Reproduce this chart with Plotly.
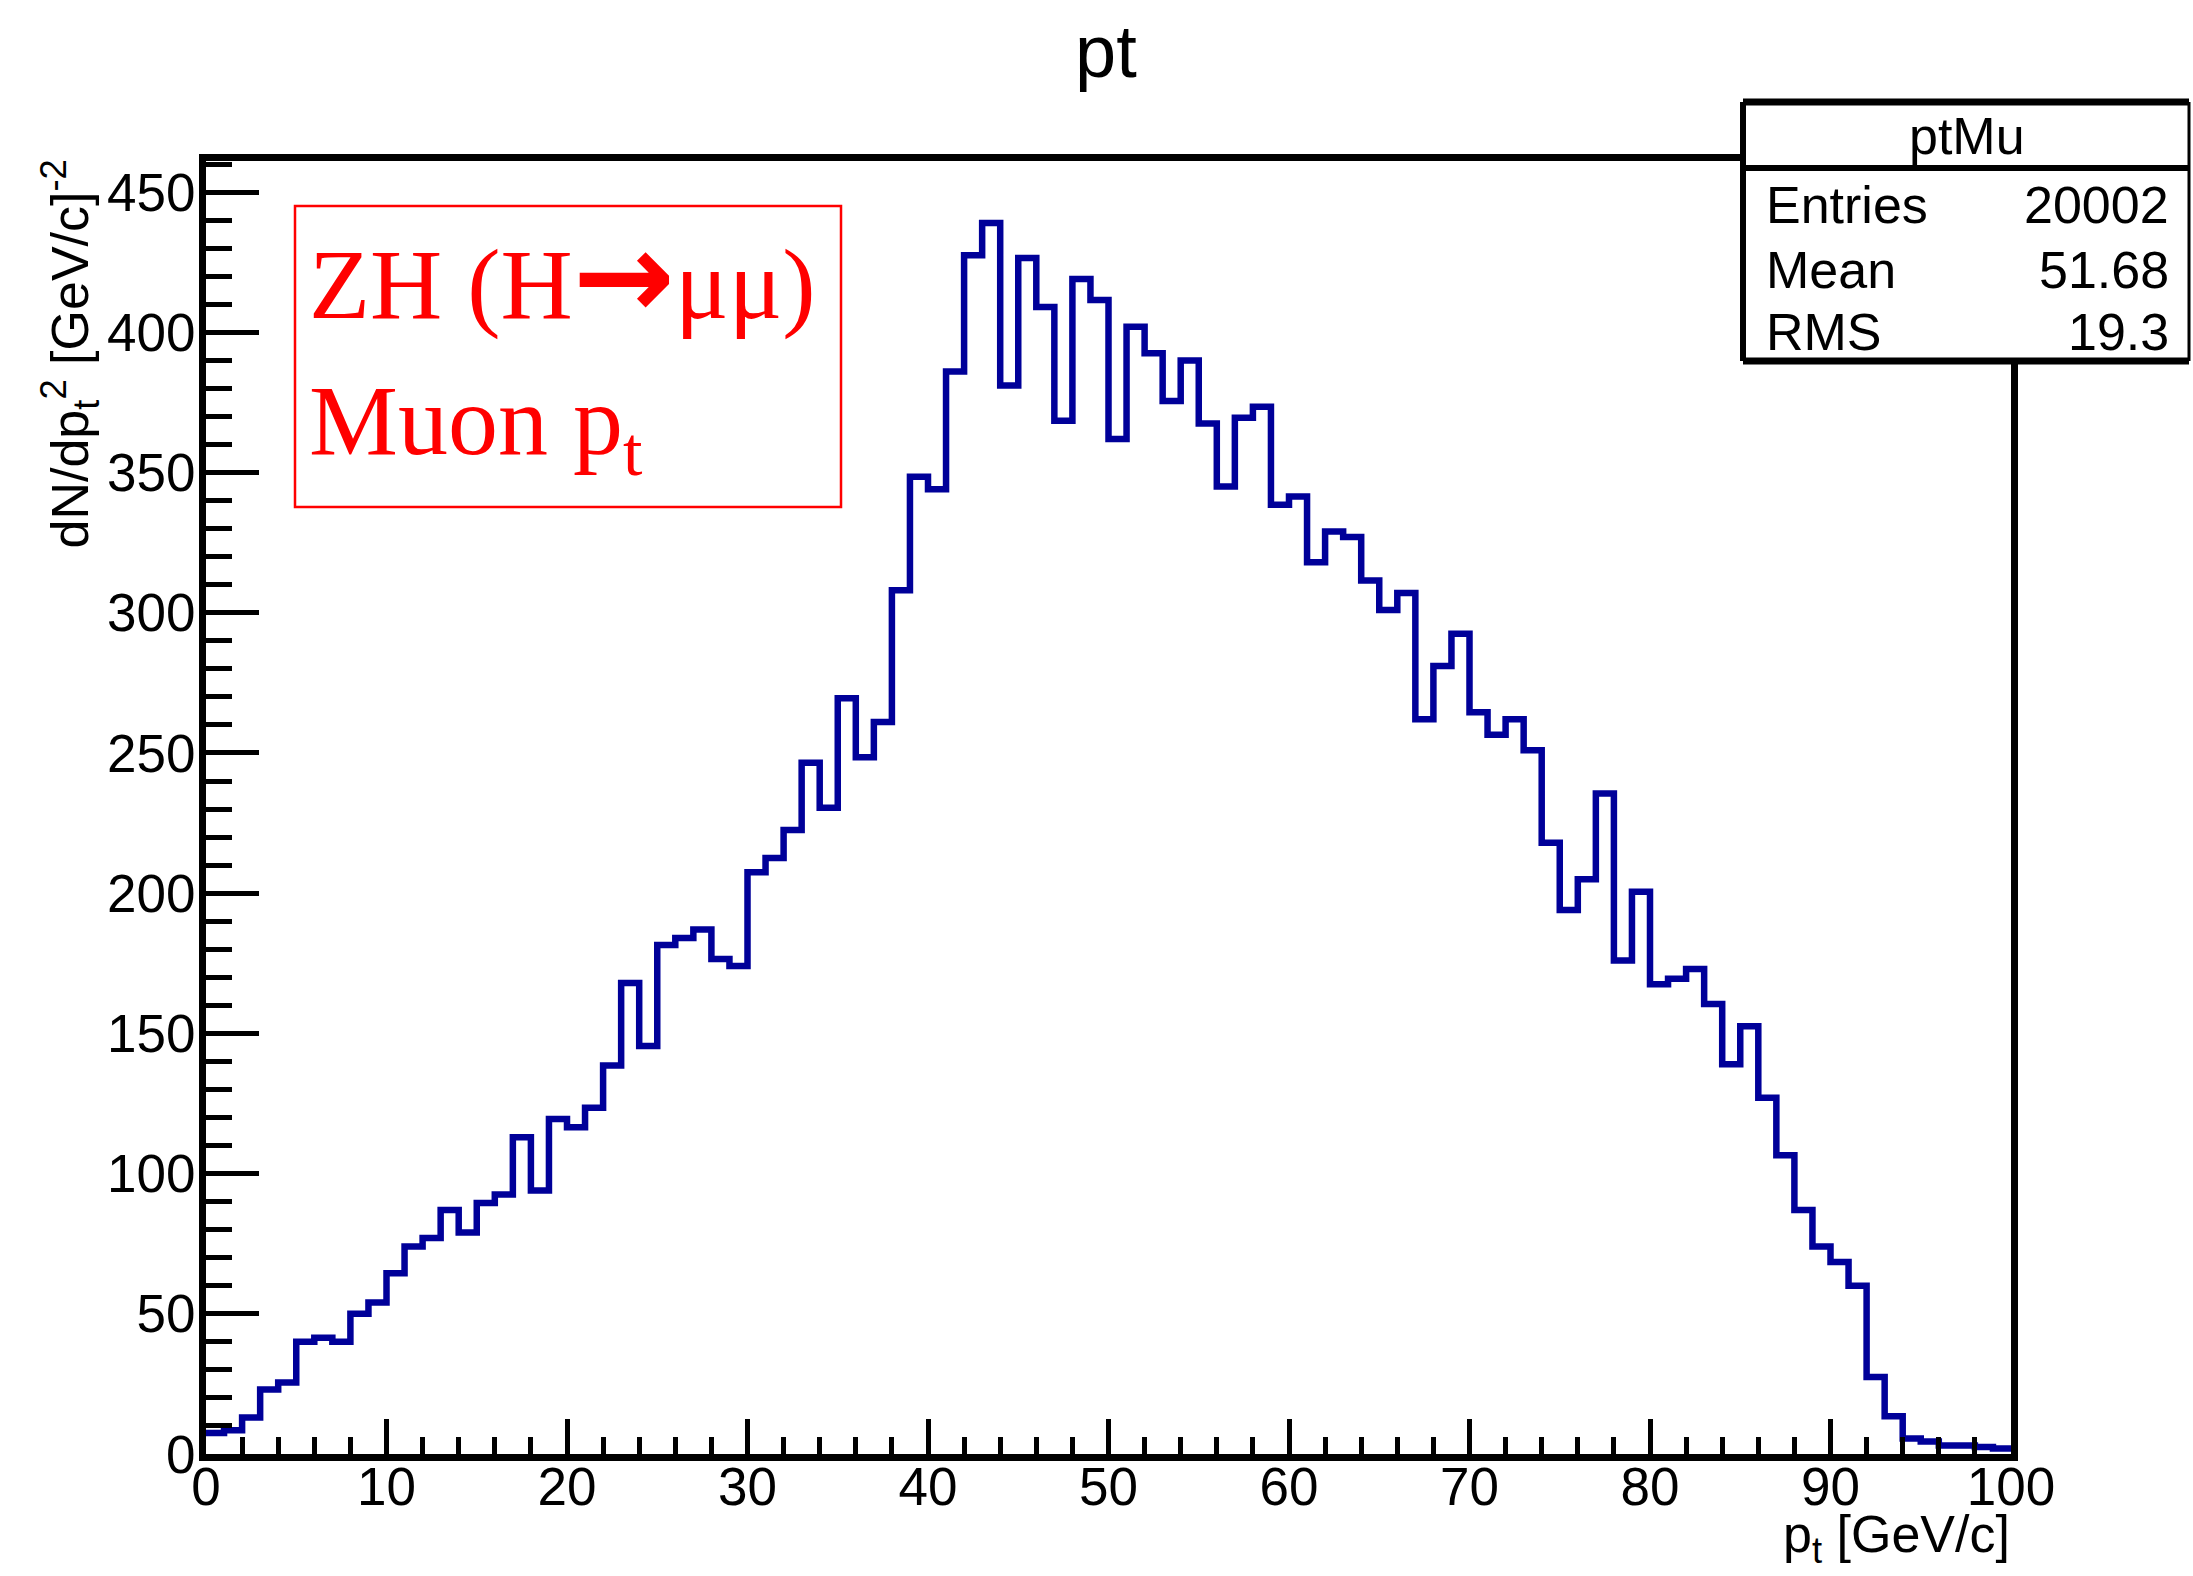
import plotly.graph_objects as go

# ---------------- data ----------------
bin_edges = list(range(0, 101))  # 100 bins of 1 GeV/c from 0 to 100
counts = [
    7.5, 8.5, 13, 23, 25.5, 40, 41.5, 40, 50, 54,
    64.5, 74, 77, 87, 79, 89.5, 92.5, 113, 94, 119.5,
    116.5, 123.5, 138.5, 168, 145.5, 181.5, 184, 187, 176.5, 174,
    207.5, 212.5, 222.5, 246.5, 230.5, 269.5, 248.5, 261, 308, 348.5,
    344, 386, 427.5, 439, 381, 426.5, 409, 368.5, 419, 411.5,
    362, 402, 392.5, 375.5, 390, 367.5, 345, 369.5, 373.5, 338.5,
    341.5, 318, 329, 327, 311.5, 301, 307, 262, 281, 292.5,
    264.5, 256.5, 262, 251, 218, 194, 205, 235.5, 176, 200.5,
    167.5, 169.5, 173, 160.5, 139, 152.5, 127, 106.5, 87, 74,
    68.5, 60, 27.5, 13.5, 5.5, 4.5, 3, 3, 2.5, 2,
]
x_ticks = [0, 10, 20, 30, 40, 50, 60, 70, 80, 90, 100]
y_ticks = [0, 50, 100, 150, 200, 250, 300, 350, 400, 450]
stat_names = ["Entries", "Mean", "RMS"]
stat_values = ["20002", "51.68", "19.3"]
hist_name = "ptMu"
title_text = "pt"

# ---------------- layout geometry ----------------
W, H = 2193, 1576
L, R, T, B = 206, 182, 161, 122
PW = W - L - R
PH = H - T - B

def px(xp):
    return (xp - L) / PW

def py(yp):
    return (H - B - yp) / PH

SANS = "Liberation Sans, Arial, Helvetica, sans-serif"
SERIF = "Liberation Serif, Times New Roman, serif"
BLUE = "#000099"

fig = go.Figure()
fig.add_trace(go.Scatter(
    x=bin_edges,
    y=counts + [counts[-1]],
    mode="lines",
    line=dict(shape="hv", color=BLUE, width=6.5),
    hoverinfo="skip",
    showlegend=False,
))

fig.update_layout(
    width=W, height=H,
    margin=dict(l=L, r=R, t=T, b=B, autoexpand=False),
    paper_bgcolor="white", plot_bgcolor="white",
    showlegend=False,
    font=dict(family=SANS, color="black"),
)

fig.update_xaxes(
    range=[0, 100],
    tickmode="array", tickvals=x_ticks, ticktext=[str(v) for v in x_ticks],
    ticks="inside", ticklen=35, tickwidth=5, tickcolor="black",
    minor=dict(ticks="inside", ticklen=17, tickwidth=5, tickcolor="black", dtick=2, tick0=0),
    showline=True, linewidth=7, linecolor="black", mirror=True,
    showgrid=False, zeroline=False,
    tickfont=dict(family=SANS, size=53, color="black"),
    ticklabelstandoff=-20,
)
fig.update_yaxes(
    range=[0, 461.1],
    tickmode="array", tickvals=y_ticks, ticktext=[str(v) for v in y_ticks],
    ticks="inside", ticklen=53, tickwidth=5, tickcolor="black",
    minor=dict(ticks="inside", ticklen=26, tickwidth=5, tickcolor="black", dtick=10, tick0=0),
    showline=True, linewidth=7, linecolor="black", mirror=True,
    showgrid=False, zeroline=False,
    tickfont=dict(family=SANS, size=53, color="black"),
    ticklabelstandoff=-7,
)

shapes = []
annotations = []

# title
annotations.append(dict(
    text=title_text, xref="paper", yref="paper",
    x=px(1106), y=py(51), xanchor="center", yanchor="middle",
    showarrow=False, font=dict(family=SANS, size=74, color="black"),
))

# axis titles (ROOT style: right / top aligned)
annotations.append(dict(
    text="p<sub>t</sub> [GeV/c]", xref="paper", yref="paper",
    x=px(2012), y=py(1538), xanchor="right", yanchor="middle",
    showarrow=False, font=dict(family=SANS, size=52, color="black"),
))
annotations.append(dict(
    text="dN/dp<sub>t</sub><sup>2</sup> [GeV/c]<sup>-2</sup>", xref="paper", yref="paper",
    x=px(70), y=py(158), xanchor="center", yanchor="top", textangle=-90,
    showarrow=False, font=dict(family=SANS, size=52, color="black"),
))

# red label box
shapes.append(dict(type="rect", xref="paper", yref="paper",
                   x0=px(295), x1=px(841), y0=py(507), y1=py(206),
                   line=dict(color="#ff0000", width=2.5), fillcolor="rgba(0,0,0,0)", layer="above"))
arrow = ("<span style=\"font-family:'DejaVu Sans'; font-weight:bold; "
         "font-size:122px\">\u2192</span>")
annotations.append(dict(
    text="ZH (H" + arrow + "\u03bc\u03bc)", xref="paper", yref="paper",
    x=px(307), y=py(276), xanchor="left", yanchor="middle",
    showarrow=False, font=dict(family=SERIF, size=100, color="#ff0000"),
))
annotations.append(dict(
    text="Muon p<sub>t</sub>", xref="paper", yref="paper",
    x=px(307), y=py(428), xanchor="left", yanchor="middle",
    showarrow=False, font=dict(family=SERIF, size=100, color="#ff0000"),
))

# stats box
SX0, SX1, SY0, SY1, SSEP = 1743, 2189, 102, 361, 168
shapes.append(dict(type="rect", xref="paper", yref="paper",
                   x0=px(SX0), x1=px(SX1), y0=py(SY1), y1=py(SY0),
                   line=dict(width=0), fillcolor="white", layer="above"))
for (xa, ya, xb, yb, w) in [
    (SX0, SY0, SX1, SY0, 7),
    (SX0, SY1, SX1, SY1, 7),
    (SX0, SY0, SX0, SY1, 6),
    (SX1, SY0, SX1, SY1, 3),
    (SX0, SSEP, SX1, SSEP, 6),
]:
    shapes.append(dict(type="line", xref="paper", yref="paper",
                       x0=px(xa), x1=px(xb), y0=py(ya), y1=py(yb),
                       line=dict(color="black", width=w), layer="above"))

annotations.append(dict(
    text=hist_name, xref="paper", yref="paper",
    x=px(1967), y=py(136), xanchor="center", yanchor="middle",
    showarrow=False, font=dict(family=SANS, size=52, color="black"),
))
row_y = [205, 270, 332]
for name, val, yy in zip(stat_names, stat_values, row_y):
    annotations.append(dict(
        text=name, xref="paper", yref="paper",
        x=px(1764), y=py(yy), xanchor="left", yanchor="middle",
        showarrow=False, font=dict(family=SANS, size=52, color="black"),
    ))
    annotations.append(dict(
        text=val, xref="paper", yref="paper",
        x=px(2171), y=py(yy), xanchor="right", yanchor="middle",
        showarrow=False, font=dict(family=SANS, size=52, color="black"),
    ))

fig.update_layout(shapes=shapes, annotations=annotations)
fig.write_html(
    "out.html",
    config={"displayModeBar": False},
    post_script="document.body.style.margin='0';document.body.style.padding='0';",
)
